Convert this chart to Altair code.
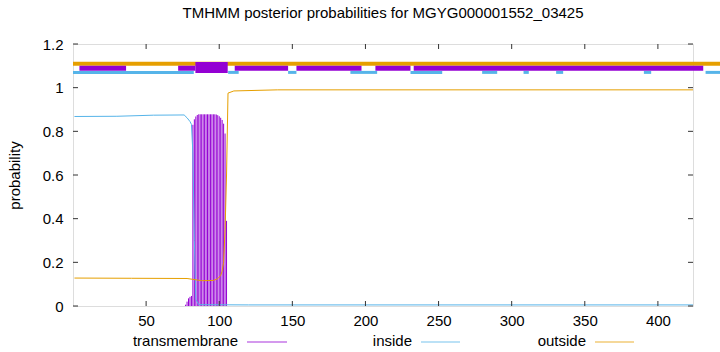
import altair as alt
import pandas as pd

# ---------------- data ----------------
title_text = "TMHMM posterior probabilities for MGYG000001552_03425"
x_ticks = [50, 100, 150, 200, 250, 300, 350, 400]
y_ticks = [0, 0.2, 0.4, 0.6, 0.8, 1.0, 1.2]
x_domain = [0, 424]
y_domain = [0, 1.2]

# transmembrane posterior (impulses), residues 77..105
tm_x = [77, 78, 79, 80, 81, 82, 83, 84, 85, 86, 87, 88, 89, 90, 91, 92, 93,
        94, 95, 96, 97, 98, 99, 100, 101, 102, 103, 104, 105]
tm_p = [0.006, 0.02, 0.035, 0.042, 0.046, 0.83, 0.855, 0.868, 0.875, 0.878,
        0.878, 0.878, 0.878, 0.878, 0.878, 0.878, 0.878, 0.878, 0.878, 0.878,
        0.878, 0.877, 0.874, 0.869, 0.862, 0.852, 0.835, 0.79, 0.39]

# inside posterior (line)
inside_x = [1, 30, 55, 76, 78, 80, 81, 82, 83, 84, 86, 120, 250, 424]
inside_p = [0.868, 0.869, 0.874, 0.875, 0.862, 0.845, 0.832, 0.7, 0.3, 0.03,
            0.006, 0.005, 0.005, 0.005]

# outside posterior (line)
outside_x = [1, 40, 78, 82, 88, 96, 99, 101, 102, 103, 104, 105, 106, 110, 140, 424]
outside_p = [0.128, 0.127, 0.126, 0.122, 0.116, 0.117, 0.125, 0.14, 0.16, 0.2,
             0.35, 0.6, 0.975, 0.985, 0.99, 0.99]

# topology bands at the top
outside_band_start = [0]
outside_band_end = [443]
inside_band_start = [0, 106.1, 147.1, 189.7, 230.8, 279.8, 308.1, 330.4, 390.4, 432.6]
inside_band_end = [82.6, 113.3, 152.8, 208.0, 252.5, 290.1, 311.7, 335.2, 395.4, 443]
tm_band_start = [4.4, 71.9, 110.6, 152.8, 206.8, 233.0]
tm_band_end = [36.3, 83.7, 147.1, 197.3, 230.8, 431.0]
helix_start = [83.7]
helix_end = [105.8]

legend_labels = ["transmembrane", "inside", "outside"]

TM_C = "#9400D3"
IN_C = "#56B4E9"
OUT_C = "#E69F00"
FONT = "Liberation Sans"
FS = 15

W, H = 620, 262

# ---------------- tables ----------------
tm_df = pd.DataFrame({"x": tm_x, "p": tm_p})
in_df = pd.DataFrame({"x": inside_x, "p": inside_p})
out_df = pd.DataFrame({"x": outside_x, "p": outside_p})


def band(starts, ends, level):
    return pd.DataFrame({"x": starts, "x_end": ends, "p": [level] * len(starts)})


xs = alt.Scale(domain=x_domain, nice=False, zero=False)
ys = alt.Scale(domain=y_domain, nice=False)
x_enc = alt.X("x:Q", scale=xs, axis=alt.Axis(
    values=x_ticks, title=None, grid=False, domain=False, ticks=False, tickSize=0,
    labelFont=FONT, labelFontSize=FS, labelColor="black", labelPadding=7))
y_enc = alt.Y("p:Q", scale=ys, axis=alt.Axis(
    values=y_ticks, format="~g", title="probability", grid=False, domain=False,
    ticks=False, tickSize=0, labelFont=FONT, labelFontSize=FS, labelColor="black",
    labelPadding=10, titleFont=FONT, titleFontSize=FS, titleFontWeight="normal",
    titleColor="black", titlePadding=20))

impulses = alt.Chart(tm_df).mark_rule(color=TM_C, strokeWidth=1).encode(
    x=x_enc, y=y_enc, y2=alt.datum(0))
inside_line = alt.Chart(in_df).mark_line(color=IN_C, strokeWidth=1).encode(x=x_enc, y=y_enc)
outside_line = alt.Chart(out_df).mark_line(color=OUT_C, strokeWidth=1).encode(x=x_enc, y=y_enc)


def band_layer(df, color, width):
    return alt.Chart(df).mark_rule(color=color, strokeWidth=width, strokeCap="butt",
                                   clip=False).encode(x=x_enc, x2="x_end:Q", y=y_enc)


bands = [
    band_layer(band(outside_band_start, outside_band_end, 1.11), OUT_C, 4),
    band_layer(band(inside_band_start, inside_band_end, 1.07), IN_C, 3),
    band_layer(band(tm_band_start, tm_band_end, 1.089), TM_C, 5),
    band_layer(band(helix_start, helix_end, 1.092), TM_C, 11),
]

# inward ticks (gnuplot style, mirrored)
xt_df = pd.DataFrame({"x": x_ticks})
yt_df = pd.DataFrame({"p": y_ticks})
tick_layers = [
    alt.Chart(xt_df).mark_rule(color="#333", strokeWidth=1).encode(
        x=x_enc, y=alt.value(H), y2=alt.value(H - 5)),
    alt.Chart(xt_df).mark_rule(color="#333", strokeWidth=1).encode(
        x=x_enc, y=alt.value(0), y2=alt.value(5)),
    alt.Chart(yt_df).mark_rule(color="#333", strokeWidth=1).encode(
        y=y_enc, x=alt.value(0), x2=alt.value(5)),
    alt.Chart(yt_df).mark_rule(color="#333", strokeWidth=1).encode(
        y=y_enc, x=alt.value(W), x2=alt.value(W - 5)),
]

# legend under the plot: label, then a line sample
leg_df = pd.DataFrame({"label": legend_labels})
leg_text_right = [165, 339, 513]
leg_line = [(174, 214), (348, 387), (522, 561)]
leg_colors = [TM_C, IN_C, OUT_C]
leg_y = 297
legend_layers = []
for i, lab in enumerate(legend_labels):
    d = leg_df[leg_df["label"] == lab]
    legend_layers.append(
        alt.Chart(d).mark_text(align="right", baseline="middle", font=FONT,
                               fontSize=FS, color="black", clip=False).encode(
            text="label:N", x=alt.value(leg_text_right[i]), y=alt.value(leg_y)))
    legend_layers.append(
        alt.Chart(d).mark_rule(color=leg_colors[i], strokeWidth=1, opacity=0.8,
                               clip=False).encode(
            x=alt.value(leg_line[i][0]), x2=alt.value(leg_line[i][1]),
            y=alt.value(leg_y + 1)))

chart = alt.layer(
    *bands, impulses, inside_line, outside_line, *tick_layers, *legend_layers
).properties(
    width=W, height=H,
    title=alt.TitleParams(title_text, font=FONT, fontSize=FS, fontWeight="normal",
                          color="black", anchor="middle", offset=16),
    autosize=alt.AutoSizeParams(type="none"),
    padding={"left": 73, "top": 44, "right": 27, "bottom": 46},
).configure_view(stroke="black", strokeWidth=1).configure(background="white")

chart.save("out.html", embed_options={"renderer": "svg", "actions": False})
